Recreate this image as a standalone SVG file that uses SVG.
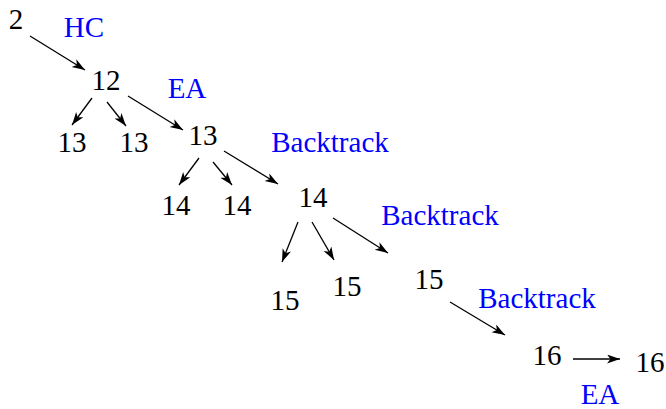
<svg xmlns="http://www.w3.org/2000/svg" width="666" height="409" viewBox="0 0 666 409">
<style>
text{font-family:"Liberation Serif","Times New Roman",serif;font-size:29px;text-anchor:middle}
.n{fill:#000}
.l{fill:#0000ff}
.c line{stroke:#000;stroke-width:1.3;fill:none}
</style>
<defs>
<marker id="ah" markerUnits="userSpaceOnUse" markerWidth="14" markerHeight="10" refX="13" refY="4.5" orient="auto">
<path d="M0,0 L13,4.5 L0,9 L3.5,4.5 z" fill="#000"/>
</marker>
</defs>
<g class="c" id="connectors">
<line x1="30" y1="36" x2="85" y2="70" marker-end="url(#ah)"/>
<line x1="92" y1="98" x2="72" y2="125" marker-end="url(#ah)"/>
<line x1="107" y1="102" x2="126" y2="126" marker-end="url(#ah)"/>
<line x1="128" y1="96" x2="183" y2="130" marker-end="url(#ah)"/>
<line x1="199" y1="158" x2="179" y2="185" marker-end="url(#ah)"/>
<line x1="213" y1="162" x2="232" y2="185" marker-end="url(#ah)"/>
<line x1="224" y1="151" x2="278" y2="184" marker-end="url(#ah)"/>
<line x1="298" y1="222" x2="282" y2="262" marker-end="url(#ah)"/>
<line x1="312" y1="222" x2="334" y2="260" marker-end="url(#ah)"/>
<line x1="333" y1="218" x2="388" y2="253" marker-end="url(#ah)"/>
<line x1="450" y1="302" x2="505" y2="335" marker-end="url(#ah)"/>
<line x1="573" y1="359" x2="620" y2="359" marker-end="url(#ah)"/>
</g>
<g id="n2"><text class="n" x="16" y="29">2</text></g>
<g id="n12"><text class="n" x="106" y="90">12</text></g>
<g id="n13a"><text class="n" x="72" y="152">13</text></g>
<g id="n13b"><text class="n" x="134" y="152">13</text></g>
<g id="n13c"><text class="n" x="203" y="145">13</text></g>
<g id="n14a"><text class="n" x="176" y="215">14</text></g>
<g id="n14b"><text class="n" x="237" y="215">14</text></g>
<g id="n14c"><text class="n" x="313" y="207">14</text></g>
<g id="n15a"><text class="n" x="285" y="310">15</text></g>
<g id="n15b"><text class="n" x="347" y="296">15</text></g>
<g id="n15c"><text class="n" x="429" y="289">15</text></g>
<g id="n16a"><text class="n" x="547" y="365">16</text></g>
<g id="n16b"><text class="n" x="650" y="372">16</text></g>
<g id="labels">
<text class="l" x="84" y="37">HC</text>
<text class="l" x="187" y="98">EA</text>
<text class="l" x="330" y="152">Backtrack</text>
<text class="l" x="440" y="225">Backtrack</text>
<text class="l" x="537" y="308">Backtrack</text>
<text class="l" x="600" y="404">EA</text>
</g>
</svg>
